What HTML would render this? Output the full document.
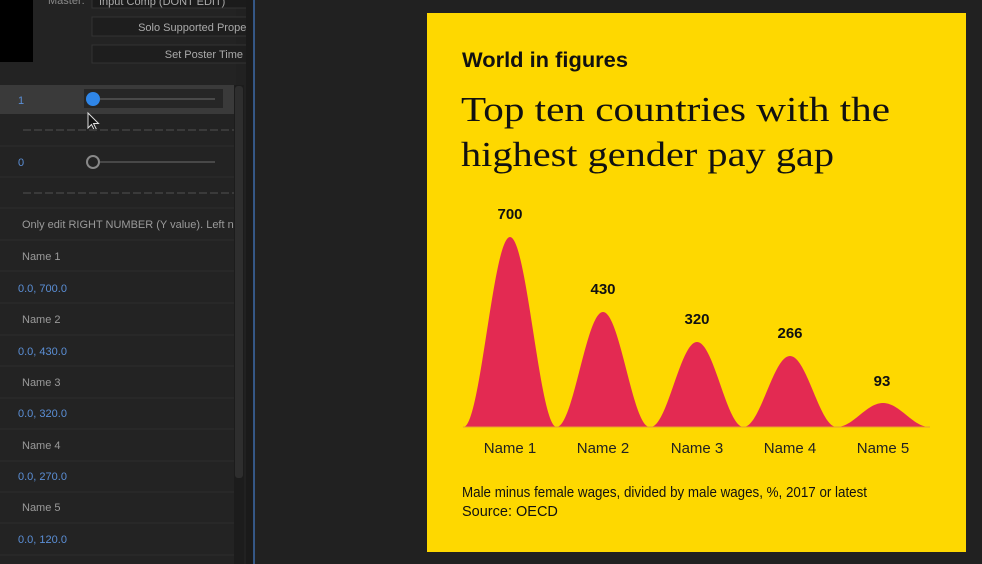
<!DOCTYPE html>
<html><head><meta charset="utf-8"><style>
html,body{margin:0;padding:0;background:#212121;width:982px;height:564px;overflow:hidden}
svg{display:block}
</style></head><body>
<svg width="982" height="564" viewBox="0 0 982 564" xmlns="http://www.w3.org/2000/svg" font-family="Liberation Sans, sans-serif">
<defs><clipPath id="pc"><rect x="0" y="0" width="234" height="564"/></clipPath></defs>
<rect x="0" y="0" width="982" height="564" fill="#212121"/>
<!-- left panel -->
<rect x="0" y="0" width="236" height="564" fill="#232323"/>
<rect x="0" y="0" width="33" height="62" fill="#000"/>
<text x="48" y="4" fill="#8a8a8a" font-size="11">Master:</text>
<rect x="92" y="-4" width="161" height="12" fill="#1b1b1b" stroke="#333"/>
<text x="99" y="5" fill="#aaa" font-size="11">Input Comp (DONT EDIT)</text>
<rect x="92" y="17" width="161" height="19" fill="#1e1e1e" stroke="#333"/>
<text x="250" y="31" fill="#aaa" font-size="11" text-anchor="end">Solo Supported Proper</text>
<rect x="92" y="45" width="161" height="18" fill="#1e1e1e" stroke="#333"/>
<text x="243" y="58" fill="#aaa" font-size="11" text-anchor="end">Set Poster Time</text>
<rect x="0" y="85" width="234" height="29" fill="#3a3a3a"/>
<rect x="84" y="89" width="139" height="19" fill="#262626"/>
<text x="18" y="104" fill="#5b8fd6" font-size="11">1</text>
<line x1="100" y1="99" x2="215" y2="99" stroke="#555" stroke-width="1.5"/>
<circle cx="93" cy="99" r="7" fill="#2f86e8"/>
<path d="M88,113 l0,15 l3.5,-3.5 l3,6 l2,-1 l-3,-6 l5,0 z" fill="#111" stroke="#ddd" stroke-width="1"/>
<g stroke="#3a3a3a" stroke-width="2" stroke-dasharray="8,3">
<line x1="23" y1="130" x2="234" y2="130"/><line x1="23" y1="193" x2="234" y2="193"/></g>
<text x="18" y="166" fill="#5b8fd6" font-size="11">0</text>
<circle cx="93" cy="162" r="6" fill="none" stroke="#888" stroke-width="2"/>
<line x1="100" y1="162" x2="215" y2="162" stroke="#555" stroke-width="1.5"/>
<g stroke="#2d2d2d" stroke-width="1">
<line x1="0" y1="146" x2="234" y2="146"/><line x1="0" y1="177" x2="234" y2="177"/><line x1="0" y1="208" x2="234" y2="208"/>
<line x1="0" y1="240" x2="234" y2="240"/><line x1="0" y1="271" x2="234" y2="271"/><line x1="0" y1="303" x2="234" y2="303"/>
<line x1="0" y1="335" x2="234" y2="335"/><line x1="0" y1="366" x2="234" y2="366"/><line x1="0" y1="398" x2="234" y2="398"/>
<line x1="0" y1="429" x2="234" y2="429"/><line x1="0" y1="461" x2="234" y2="461"/><line x1="0" y1="492" x2="234" y2="492"/>
<line x1="0" y1="523" x2="234" y2="523"/><line x1="0" y1="555" x2="234" y2="555"/></g>
<g font-size="11" fill="#9a9a9a" clip-path="url(#pc)">
<text x="22" y="228">Only edit RIGHT NUMBER (Y value). Left number</text>
<text x="22" y="260">Name 1</text><text x="22" y="323">Name 2</text><text x="22" y="386">Name 3</text>
<text x="22" y="449">Name 4</text><text x="22" y="511">Name 5</text></g>
<g font-size="11" fill="#5b8fd6">
<text x="18" y="292">0.0, 700.0</text><text x="18" y="355">0.0, 430.0</text><text x="18" y="417">0.0, 320.0</text>
<text x="18" y="480">0.0, 270.0</text><text x="18" y="543">0.0, 120.0</text></g>
<rect x="234" y="85" width="10" height="479" fill="#1c1c1c"/>
<rect x="235" y="86" width="8" height="392" rx="3" fill="#2e2e2e"/>
<rect x="246" y="0" width="8" height="564" fill="#1a1a1a"/>
<line x1="254" y1="0" x2="254" y2="564" stroke="#3d6aa8" stroke-width="1.5"/>
<!-- card -->
<rect x="427" y="13" width="539" height="539" fill="#fed800"/>
<text x="462" y="67" font-size="21" font-weight="bold" fill="#111" textLength="166" lengthAdjust="spacingAndGlyphs">World in figures</text>
<g font-family="Liberation Serif, serif" font-size="35" fill="#111">
<text x="461" y="121" textLength="429" lengthAdjust="spacingAndGlyphs">Top ten countries with the</text>
<text x="461" y="166" textLength="373" lengthAdjust="spacingAndGlyphs">highest gender pay gap</text></g>
<path id="peaks" fill="#e32a52" d=""/>
<line x1="463" y1="427" x2="930" y2="427" stroke="#e8a030" stroke-width="1"/>
<g font-size="15" font-weight="bold" fill="#111" text-anchor="middle">
<text x="510" y="219">700</text><text x="603" y="294">430</text><text x="697" y="324">320</text>
<text x="790" y="338">266</text><text x="882" y="386">93</text></g>
<g font-size="15" fill="#222" text-anchor="middle">
<text x="510" y="453">Name 1</text><text x="603" y="453">Name 2</text><text x="697" y="453">Name 3</text>
<text x="790" y="453">Name 4</text><text x="883" y="453">Name 5</text></g>
<g font-size="14.5" fill="#111">
<text x="462" y="497" textLength="405" lengthAdjust="spacingAndGlyphs">Male minus female wages, divided by male wages, %, 2017 or latest</text>
<text x="462" y="516">Source: OECD</text></g>
</svg>
<script>
(function(){
var c=[510,603,697,790,883],t=[237,312,342,356,403],base=427,w=46.5;
var d="M463,"+base;
for(var x=463;x<=930;x+=1){
 var m=0;
 for(var i=0;i<5;i++){var h=base-t[i];var dx=Math.abs(x-c[i]);if(dx<w){var v=h*(1+Math.cos(Math.PI*dx/w))/2;if(v>m)m=v;}}
 d+=" L"+x+","+(base-m).toFixed(2);
}
d+=" L930,"+base+" Z";
document.getElementById("peaks").setAttribute("d",d);
})();
</script>
</body></html>
